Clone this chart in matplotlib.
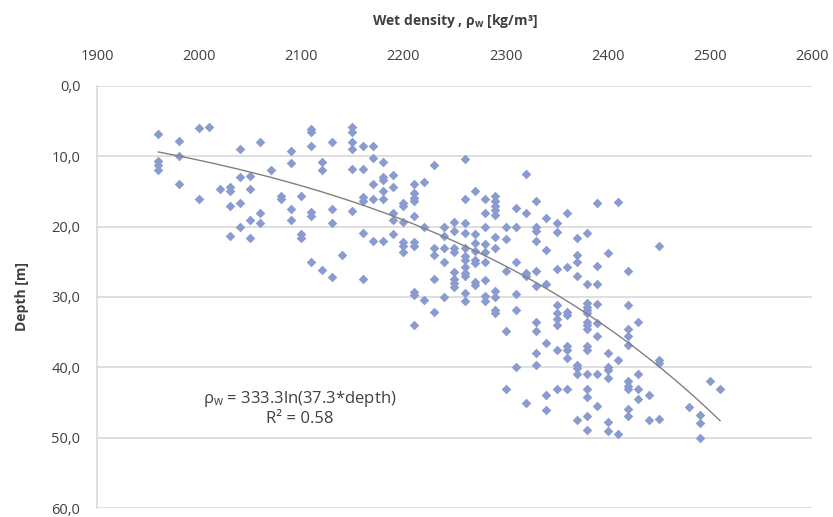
import numpy as np
import matplotlib.pyplot as plt
from matplotlib.ticker import FuncFormatter

plt.rcParams['font.family'] = ['Open Sans', 'DejaVu Sans']
plt.rcParams['mathtext.default'] = 'regular'

# wet density [kg/m3] and depth [m]
density = ([1960] * 4 + [1980] * 3 + [2000] * 2 + [2010] + [2020] + [2030] * 4 + [2040] * 4
           + [2050] * 4 + [2060] * 3 + [2070] + [2080] * 2 + [2090] * 4 + [2100] * 3
           + [2110] * 6 + [2120] * 3 + [2130] * 4 + [2140] + [2150] * 6 + [2160] * 6
           + [2170] * 5 + [2180] * 6 + [2190] * 5 + [2200] * 6 + [2210] * 10 + [2220] * 3
           + [2230] * 5 + [2240] * 5 + [2250] * 8 + [2260] * 12 + [2270] * 8 + [2280] * 9
           + [2290] * 11 + [2300] * 5 + [2310] * 6 + [2320] * 5 + [2330] * 10 + [2340] * 6
           + [2350] * 9 + [2360] * 8 + [2370] * 8 + [2380] * 16 + [2390] * 8 + [2400] * 7
           + [2410] * 3 + [2420] * 10 + [2430] * 4 + [2440] * 2 + [2450] * 4 + [2480]
           + [2490] * 3 + [2500] + [2510])
depth = [6.8, 10.6, 11.3, 12.0,
         7.8, 10.0, 14.0,
         6.0, 16.0,
         5.8,
         14.6,
         14.4, 15.0, 17.0, 21.3,
         9.0, 13.0, 16.7, 20.1,
         12.8, 14.6, 19.1, 21.6,
         8.0, 18.1, 19.5,
         12.0,
         15.6, 16.0,
         9.3, 11.0, 17.5, 19.1,
         15.6, 21.1, 21.6,
         6.1, 6.6, 8.6, 17.9, 18.5, 25.0,
         10.8, 12.0, 26.1,
         8.0, 17.5, 19.5, 27.1,
         24.1,
         5.9, 6.6, 7.9, 9.0, 11.8, 17.8,
         8.6, 11.8, 15.8, 16.3, 20.9, 27.5,
         8.5, 10.3, 14.0, 16.0, 22.1,
         10.8, 13.0, 13.3, 15.0, 16.0, 22.1,
         12.7, 14.4, 18.0, 19.0, 21.0,
         16.6, 17.0, 19.4, 22.2, 22.7, 23.6,
         14.0, 15.2, 15.9, 16.3, 18.5, 22.2, 22.7, 29.3, 29.7, 34.0,
         13.6, 20.1, 30.4,
         11.3, 23.0, 24.1, 27.5, 32.1,
         20.1, 21.3, 23.1, 25.0, 30.0,
         19.3, 20.6, 23.0, 23.6, 26.4, 27.4, 28.0, 28.6,
         10.4, 16.0, 19.5, 20.9, 23.0, 24.2, 24.8, 25.7, 26.6, 27.0, 29.4, 30.6,
         15.0, 21.1, 22.3, 23.5, 24.8, 25.1, 27.8, 28.3,
         16.0, 18.1, 20.1, 22.5, 23.6, 25.0, 27.6, 29.8, 30.6,
         15.6, 16.3, 17.0, 17.6, 18.3, 21.4, 23.0, 29.1, 30.0, 31.9, 32.3,
         20.1, 21.8, 26.3, 34.8, 43.1,
         17.4, 20.1, 25.0, 29.6, 31.9, 40.0,
         12.5, 18.1, 26.6, 27.0, 45.1,
         16.4, 20.1, 20.6, 22.1, 26.3, 28.5, 33.5, 34.9, 38.0, 39.6,
         18.7, 23.3, 28.1, 36.6, 44.0, 46.0,
         19.5, 20.8, 26.0, 31.2, 32.3, 33.2, 34.0, 37.5, 43.1,
         18.1, 25.7, 32.1, 32.6, 36.9, 37.6, 38.7, 43.1,
         21.6, 24.0, 25.0, 27.0, 39.6, 40.1, 41.0, 47.5,
         20.9, 28.1, 30.9, 31.4, 31.9, 32.3, 33.5, 34.0, 34.6, 37.0, 37.6, 41.0, 43.1, 44.2, 46.9, 48.9,
         16.7, 25.6, 28.1, 31.0, 33.7, 35.5, 41.0, 45.5,
         23.8, 38.0, 40.0, 40.4, 41.5, 47.8, 49.0,
         16.5, 39.0, 49.5,
         26.3, 31.1, 34.6, 35.5, 36.8, 42.0, 42.6, 43.1, 45.9, 46.9,
         33.5, 41.0, 43.1, 44.5,
         44.0, 47.5,
         22.8, 38.9, 39.4, 47.3,
         45.6,
         46.8, 47.9, 50.0,
         42.0,
         43.1]

x_ticks = [1900, 2000, 2100, 2200, 2300, 2400, 2500, 2600]
y_ticks = [0, 10, 20, 30, 40, 50, 60]

density = np.array(density, dtype=float)
depth = np.array(depth)

# exponential trendline (depth = c*exp(b*rho)), like Excel does it
b, lnc = np.polyfit(density, np.log(depth), 1)
xx = np.linspace(density.min(), density.max(), 200)
yy = np.exp(lnc) * np.exp(b * xx)

fig = plt.figure(figsize=(8.33, 5.17), dpi=100)
ax = fig.add_axes([0.1164, 0.0174, 0.8584, 0.8163])

ax.scatter(density, depth, marker='D', s=24, color='#8A9BCF', linewidths=0, zorder=3)
ax.plot(xx, yy, color='#808080', lw=1.0, zorder=4)

ax.set_xlim(1900, 2600)
ax.set_ylim(60, 0)
ax.set_xticks(x_ticks)
ax.set_yticks(y_ticks)
ax.yaxis.set_major_formatter(FuncFormatter(lambda v, p: f'{v:.1f}'.replace('.', ',')))
ax.xaxis.tick_top()
ax.xaxis.set_label_position('top')
ax.tick_params(length=0, labelsize=10.5, colors='#404040', pad=16)
ax.tick_params(axis='y', pad=12)

ax.grid(axis='y', color='#D9D9D9', lw=1.2)
ax.set_axisbelow(True)
for s in ['top', 'right', 'bottom']:
    ax.spines[s].set_visible(False)
ax.spines['left'].set_color('#D9D9D9')
ax.spines['left'].set_linewidth(1.2)

ax.set_xlabel(r'Wet density , ρ$_{w}$ [kg/m³]', fontsize=10, fontweight='bold',
              color='#404040', labelpad=17)
ax.set_ylabel('Depth [m]', fontsize=10, fontweight='bold', color='#404040', labelpad=16)

ax.text(2099, 45.8, 'ρ$_{w}$ = 333.3ln(37.3*depth)\nR² = 0.58', ha='center', va='center',
        fontsize=12, color='#404040', linespacing=1.2)

fig.savefig('out.png', dpi=100)
